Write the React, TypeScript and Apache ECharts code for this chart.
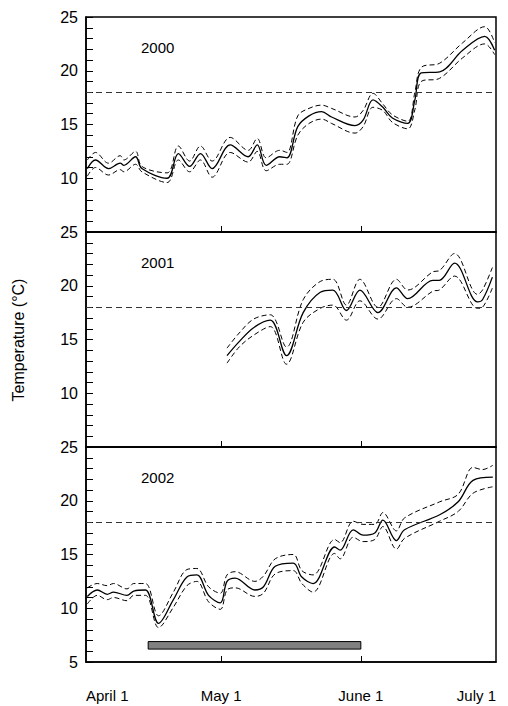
import { useEffect, useRef } from "react";
import * as echarts from "echarts";

// x = days after April 1
const years = ["2000", "2001", "2002"];

const mean2000 = [[0.3,10.9],[2.1,11.7],[5,10.9],[7.6,11.4],[8.4,11.2],[11,12.0],[12.4,10.9],[18,10.0],[20.5,12.3],[23,11.1],[25.4,12.3],[28,10.9],[32,13.1],[36,12.0],[38,13.1],[40,11.2],[43,12.0],[44.6,11.9],[47,14.8],[49.5,15.8],[52.3,16.2],[54.5,15.7],[59.7,14.9],[61.5,15.4],[63.7,17.3],[65.9,16.6],[68,15.6],[71.4,15.1],[73,17.3],[74.4,19.8],[78.5,19.9],[83.6,21.9],[88.5,23.2],[90.7,21.9]];
const upper2000 = [[0.3,11.7],[2.1,12.4],[5,11.4],[7.6,12.1],[8.4,11.7],[11,12.5],[12.4,11.1],[18,10.5],[20.5,13.0],[23,11.6],[25.4,13.0],[28,11.6],[32,13.8],[36,12.6],[38,13.7],[40,11.9],[43,12.6],[44.6,12.4],[47,15.8],[49.5,16.5],[52.3,16.8],[54.5,16.5],[59.7,15.7],[61.5,16.3],[63.7,17.9],[65.9,16.9],[68,15.9],[71.4,15.3],[73,18.0],[74.4,20.3],[78.5,20.7],[83.6,22.6],[88.5,24.1],[90.7,22.6]];
const lower2000 = [[0.3,10.2],[2.1,11.0],[5,10.3],[7.6,10.8],[8.4,10.6],[11,11.3],[12.4,10.6],[18,9.6],[20.5,11.7],[23,10.6],[25.4,11.7],[28,10.1],[32,12.4],[36,11.5],[38,12.5],[40,10.7],[43,11.3],[44.6,11.3],[47,14.0],[49.5,15.1],[52.3,15.5],[54.5,15.1],[59.7,14.2],[61.5,14.8],[63.7,16.6],[65.9,16.3],[68,15.2],[71.4,14.6],[73,16.4],[74.4,19.0],[78.5,19.3],[83.6,21.2],[88.5,22.5],[90.7,21.5]];

const mean2001 = [[31.3,13.5],[34,14.8],[37.2,16.1],[40.9,16.8],[44.5,13.5],[48.2,17.5],[52,19.4],[54.8,19.6],[57.8,17.7],[60.8,19.6],[64.8,17.5],[68.9,19.8],[71.4,18.8],[77,20.5],[78.4,20.5],[81.8,22.1],[86.9,18.5],[88,18.7],[90.2,20.8]];
const upper2001 = [[31.3,14.2],[34,15.6],[37.2,16.9],[40.9,17.3],[44.5,14.3],[48.2,18.7],[52,20.4],[54.8,20.6],[57.8,18.2],[60.8,20.6],[64.8,18.0],[68.9,20.6],[71.4,19.6],[77,21.3],[78.4,21.4],[81.8,23.0],[86.9,19.2],[88,19.6],[90.2,21.7]];
const lower2001 = [[31.3,12.8],[34,14.3],[37.2,15.4],[40.9,16.2],[44.5,12.7],[48.2,16.6],[52,17.9],[54.8,18.2],[57.8,16.8],[60.8,18.6],[64.8,16.9],[68.9,18.8],[71.4,18.0],[77,19.5],[78.4,19.6],[81.8,20.9],[86.9,17.9],[88,18.0],[90.2,19.8]];

const mean2002 = [[0.3,11.1],[2.5,11.7],[4.7,11.3],[6.1,11.5],[9.1,11.2],[10.6,11.6],[13.2,11.7],[16.1,8.6],[19.4,10.8],[22.4,12.9],[24.6,13.1],[27.2,11.2],[29.8,10.5],[31.3,12.5],[33.1,12.8],[37.5,11.7],[39.4,12.0],[42,13.9],[46,14.2],[47.9,12.9],[50.4,12.3],[55.2,15.7],[56.4,15.4],[59.3,17.3],[61.5,16.8],[64.1,17.0],[65.9,18.2],[68.9,16.3],[70.7,17.3],[78.5,18.7],[82.6,19.9],[85.9,21.9],[90.3,22.2]];
const upper2002 = [[0.3,11.9],[2.5,12.3],[4.7,12.1],[6.1,12.3],[9.1,11.8],[10.6,12.3],[13.2,12.3],[16.1,9.3],[19.4,11.5],[22.4,13.6],[24.6,13.7],[27.2,12.0],[29.8,11.4],[31.3,13.1],[33.1,13.4],[37.5,12.5],[39.4,13.0],[42,14.6],[46,15.0],[47.9,13.5],[50.4,13.1],[55.2,16.4],[56.4,16.1],[59.3,18.1],[61.5,17.8],[64.1,17.8],[65.9,18.9],[68.9,17.2],[70.7,18.4],[78.5,19.9],[82.6,20.6],[85.9,23.1],[88,22.9],[90.3,23.3]];
const lower2002 = [[0.3,10.4],[2.5,11.2],[4.7,10.8],[6.1,11.0],[9.1,10.7],[10.6,11.2],[13.2,11.2],[16.1,8.2],[19.4,10.1],[22.4,12.1],[24.6,12.5],[27.2,10.6],[29.8,9.9],[31.3,11.7],[33.1,11.9],[37.5,11.1],[39.4,11.4],[42,13.2],[46,13.5],[47.9,12.3],[50.4,11.5],[55.2,15.1],[56.4,14.6],[59.3,16.6],[61.5,16.2],[64.1,16.4],[65.9,17.6],[68.9,15.5],[70.7,16.5],[78.5,18.1],[82.6,19.0],[85.9,20.7],[90.3,21.3]];

const threshold = 18;
const barRange = [13.8, 61, 6.2, 6.9];
const xTickLabels = ["April 1", "May 1", "June 1", "July 1"];
const xTickValues = [0, 30, 61, 91];

const panels = [
  { mean: mean2000, upper: upper2000, lower: lower2000 },
  { mean: mean2001, upper: upper2001, lower: lower2001 },
  { mean: mean2002, upper: upper2002, lower: lower2002 },
];

export default function App() {
  const chartRef = useRef<HTMLDivElement>(null);

  useEffect(() => {
    document.body.style.margin = "0";
    if (!chartRef.current) return;
    const chart = echarts.init(chartRef.current, undefined, { renderer: "svg" });
    const font = "Liberation Sans, Arial, sans-serif";
    const tops = [17, 232, 447];

    const grid = tops.map((t) => ({
      left: 86,
      right: 12,
      top: t,
      height: 215,
      show: true,
      borderColor: "#000",
      borderWidth: 1.5,
      backgroundColor: "transparent",
    }));

    const xAxis = tops.map((_, i) => ({
      type: "value",
      gridIndex: i,
      min: 0,
      max: 91,
      axisLine: { show: true, lineStyle: { color: "#000", width: 1.5 } },
      splitLine: { show: false },
      axisTick: {
        show: true,
        inside: true,
        length: 6,
        customValues: [30, 61],
        lineStyle: { color: "#000" },
      },
      axisLabel: {
        show: i === 2,
        customValues: xTickValues,
        formatter: (v: number) => xTickLabels[xTickValues.indexOf(v)] ?? "",
        alignMinLabel: "left",
        alignMaxLabel: "right",
        margin: 26,
        fontSize: 15,
        color: "#000",
        fontFamily: font,
      },
    }));

    const yAxis = tops.map((_, i) => ({
      type: "value",
      gridIndex: i,
      min: 5,
      max: 25,
      interval: 5,
      axisLine: { show: true, lineStyle: { color: "#000", width: 1.5 } },
      splitLine: { show: false },
      axisTick: { show: true, inside: true, length: 7, lineStyle: { color: "#000" } },
      minorTick: { show: true, splitNumber: 5, length: 7, lineStyle: { color: "#000", width: 1 } },
      axisLabel: {
        showMinLabel: i === 2,
        fontSize: 16,
        color: "#000",
        fontFamily: font,
        margin: 8,
      },
    }));

    const series: any[] = [];
    panels.forEach((p, i) => {
      series.push({
        type: "line",
        xAxisIndex: i,
        yAxisIndex: i,
        data: p.mean,
        symbol: "none",
        smooth: 0.35,
        lineStyle: { color: "#000", width: 1.3 },
        markLine: {
          silent: true,
          symbol: "none",
          label: { show: false },
          lineStyle: { color: "#333", type: [6, 4], width: 1.2 },
          data: [{ yAxis: threshold }],
        },
        markArea:
          i === 2
            ? {
                silent: true,
                itemStyle: { color: "#808080", borderColor: "#000", borderWidth: 1 },
                data: [[{ coord: [barRange[0], barRange[2]] }, { coord: [barRange[1], barRange[3]] }]],
              }
            : undefined,
      });
      [p.upper, p.lower].forEach((d) =>
        series.push({
          type: "line",
          xAxisIndex: i,
          yAxisIndex: i,
          data: d,
          symbol: "none",
          smooth: 0.35,
          lineStyle: { color: "#000", width: 1, type: [5, 3] },
        })
      );
    });

    chart.setOption({
      animation: false,
      grid,
      xAxis,
      yAxis,
      series,
      graphic: [
        ...years.map((y, i) => ({
          type: "text",
          left: 141,
          top: tops[i] + 23,
          style: { text: y, fontSize: 15, fill: "#000", fontFamily: font },
        })),
        {
          type: "text",
          x: 18,
          y: 340,
          rotation: Math.PI / 2,
          style: {
            text: "Temperature (°C)",
            fontSize: 16,
            fill: "#000",
            fontFamily: font,
            align: "center",
            verticalAlign: "middle",
          },
        },
      ],
    });

    return () => chart.dispose();
  }, []);

  return <div ref={chartRef} style={{ width: 508, height: 706 }} />;
}
